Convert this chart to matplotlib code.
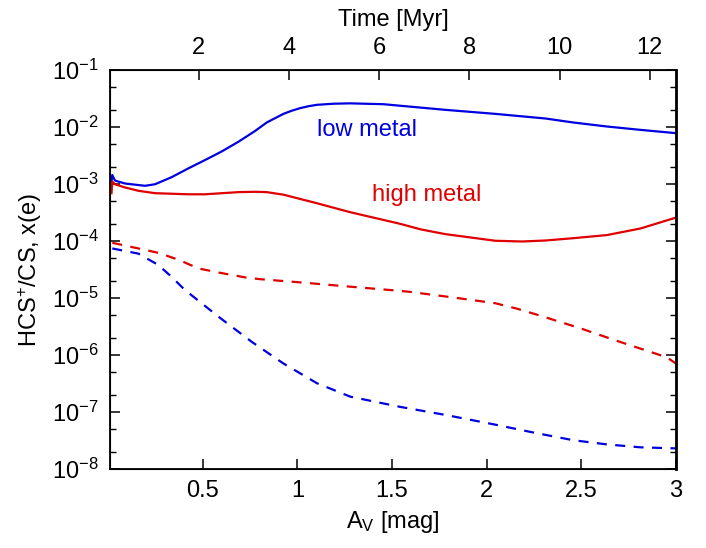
import math
import matplotlib
matplotlib.use("Agg")
import matplotlib.pyplot as plt
import matplotlib.ticker as mticker

plt.rcParams['font.family'] = ['Liberation Sans', 'DejaVu Sans']
plt.rcParams['mathtext.fontset'] = 'custom'
plt.rcParams['mathtext.rm'] = 'Liberation Sans'
plt.rcParams['mathtext.it'] = 'Liberation Sans:italic'
plt.rcParams['mathtext.bf'] = 'Liberation Sans:bold'

# ---- data (A_V [mag], abundance ratio) ----
av_low_solid = [0.018, 0.022, 0.036, 0.089, 0.195, 0.248, 0.336, 0.424, 0.512, 0.60,
                0.688, 0.776, 0.838, 0.926, 0.97, 1.014, 1.06, 1.103, 1.19, 1.279,
                1.455, 1.781, 2.045, 2.31, 2.457, 2.635, 2.813, 2.999]
low_solid = [1.10e-3, 1.44e-3, 1.15e-3, 1.02e-3, 9.3e-4, 9.9e-4, 1.32e-3, 1.88e-3, 2.63e-3, 3.72e-3,
             5.5e-3, 8.5e-3, 1.20e-2, 1.70e-2, 1.93e-2, 2.14e-2, 2.32e-2, 2.45e-2, 2.56e-2, 2.60e-2,
             2.51e-2, 2.0e-2, 1.70e-2, 1.41e-2, 1.20e-2, 1.02e-2, 8.9e-3, 7.8e-3]

av_high_solid = [0.018, 0.022, 0.036, 0.089, 0.160, 0.248, 0.424, 0.512, 0.688, 0.776,
                 0.838, 0.926, 1.103, 1.279, 1.455, 1.543, 1.651, 1.781, 2.045, 2.186,
                 2.31, 2.457, 2.635, 2.813, 2.999]
high_solid = [6.9e-4, 1.10e-3, 9.9e-4, 8.7e-4, 7.6e-4, 6.9e-4, 6.6e-4, 6.6e-4, 7.2e-4, 7.3e-4,
              7.2e-4, 6.5e-4, 4.6e-4, 3.2e-4, 2.34e-4, 2.0e-4, 1.60e-4, 1.32e-4, 1.01e-4, 9.8e-5,
              1.02e-4, 1.12e-4, 1.27e-4, 1.66e-4, 2.57e-4]

av_high_dash = [0.022, 0.160, 0.265, 0.371, 0.477, 0.583, 0.724, 0.803, 1.032, 1.279,
                1.490, 1.587, 1.825, 2.045, 2.16, 2.274, 2.494, 2.677, 2.952, 2.999]
high_dash = [9.3e-5, 7.4e-5, 6.2e-5, 4.7e-5, 3.3e-5, 2.8e-5, 2.3e-5, 2.14e-5, 1.86e-5, 1.58e-5,
             1.38e-5, 1.29e-5, 1.02e-5, 8.1e-6, 6.5e-6, 5.0e-6, 2.95e-6, 1.82e-6, 9.1e-7, 7.1e-7]

av_low_dash = [0.022, 0.160, 0.265, 0.336, 0.406, 0.494, 0.583, 0.759, 0.926, 1.103,
               1.279, 1.543, 1.781, 2.045, 2.256, 2.457, 2.635, 2.813, 2.999]
low_dash = [7.4e-5, 6.0e-5, 3.8e-5, 2.34e-5, 1.38e-5, 8.1e-6, 4.7e-6, 1.70e-6, 7.1e-7, 3.2e-7,
            1.86e-7, 1.23e-7, 8.9e-8, 6.0e-8, 4.3e-8, 3.2e-8, 2.7e-8, 2.4e-8, 2.3e-8]

av_ticks = [0.5, 1, 1.5, 2, 2.5, 3]
av_ticklabels = ['0.5', '1', '1.5', '2', '2.5', '3']
time_ticks = [2, 4, 6, 8, 10, 12]
time_ticklabels = ['2', '4', '6', '8', '10', '12']
time_range = (0.03, 12.58)
av_range = (0.01, 3.0)

BLUE = '#0000e0'
RED = '#e00000'
FS = 17

fig = plt.figure(figsize=(7.06, 5.48), dpi=100)
ax = fig.add_axes([110/706, 1-469/548, 566/706, 399/548])

lw = 1.6
ax.plot(av_low_solid, low_solid, color=BLUE, lw=lw)
ax.plot(av_high_solid, high_solid, color=RED, lw=lw)
ax.plot(av_high_dash, high_dash, color=RED, lw=lw, linestyle=(0, (4.5, 3.8)))
ax.plot(av_low_dash, low_dash, color=BLUE, lw=lw, linestyle=(0, (4.5, 3.8)))

ax.set_yscale('log')
ax.set_ylim(1e-8, 1e-1)
ax.set_xlim(*av_range)
ax.set_xticks(av_ticks)
ax.set_xticklabels(av_ticklabels)
ax.yaxis.set_major_locator(mticker.LogLocator(base=10, numticks=20))
ax.yaxis.set_minor_locator(mticker.LogLocator(base=10, subs=[2, 5], numticks=20))
ax.yaxis.set_minor_formatter(mticker.NullFormatter())
ax.yaxis.set_major_formatter(mticker.FuncFormatter(lambda v, p: r'$10^{%d}$' % round(math.log10(v))))

ax.tick_params(axis='x', which='both', direction='in', top=False, bottom=True,
               length=7, width=1.1, labelsize=FS, pad=8)
ax.tick_params(axis='y', which='major', direction='in', left=True, right=True,
               length=7, width=1.1, labelsize=FS, pad=8)
ax.tick_params(axis='y', which='minor', direction='in', left=True, right=True,
               length=4, width=1.0)
for s in ax.spines.values():
    s.set_linewidth(1.3)
ax.spines['right'].set_linewidth(2.0)

ax.set_xlabel(r'A$_{\rm V}$ [mag]', fontsize=FS, labelpad=5)
ax.set_ylabel(r'HCS$^{+}$/CS, x(e)', fontsize=FS, labelpad=6)

ax.text(1.368, 9.0e-3, 'low metal', color=BLUE, fontsize=FS, ha='center', va='center')
ax.text(1.682, 6.3e-4, 'high metal', color=RED, fontsize=FS, ha='center', va='center')

ax2 = ax.twiny()
ax2.set_xlim(*time_range)
ax2.set_xticks(time_ticks)
ax2.set_xticklabels(time_ticklabels)
ax2.tick_params(axis='x', which='both', direction='in', length=7, width=1.1,
                labelsize=FS, pad=8)
ax2.set_xlabel('Time [Myr]', fontsize=FS, labelpad=8)

fig.savefig('out.png', dpi=100)
